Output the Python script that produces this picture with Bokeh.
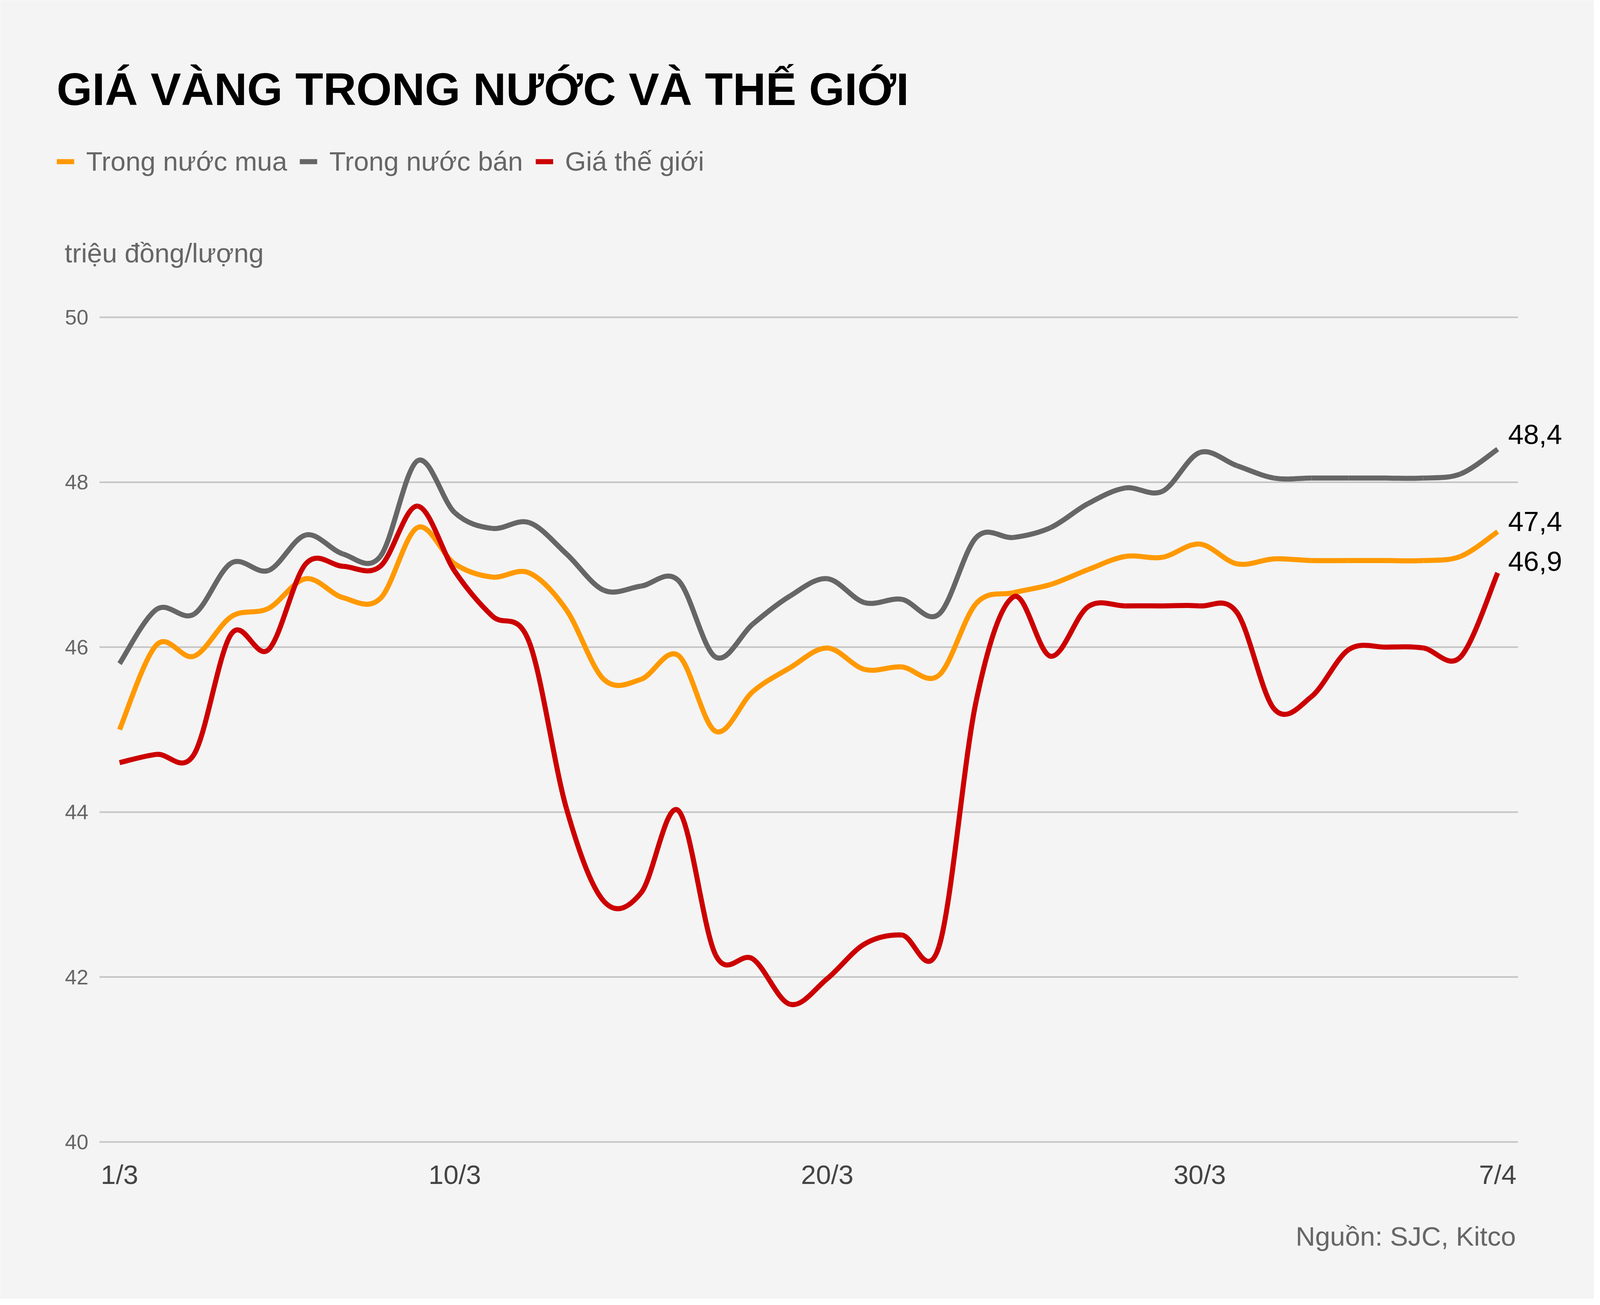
import numpy as np
from bokeh.plotting import figure
from bokeh.models import Range1d, Label, Legend, LegendItem
from bokeh.core.properties import value
from bokeh.embed import file_html
from bokeh.resources import INLINE

# data: daily prices 1/3 -> 7/4 (trieu dong/luong)
dates = ["%d/3" % d for d in range(1, 32)] + ["%d/4" % d for d in range(1, 8)]
tick_labels = ["1/3", "10/3", "20/3", "30/3", "7/4"]
y_ticks = [40, 42, 44, 46, 48, 50]

trong_nuoc_mua = [45.00, 46.03, 45.89, 46.37, 46.47, 46.83, 46.60, 46.59, 47.45, 47.01,
                  46.85, 46.90, 46.45, 45.61, 45.61, 45.90, 44.98, 45.46, 45.75, 45.99,
                  45.73, 45.76, 45.66, 46.53, 46.66, 46.76, 46.94, 47.10, 47.09, 47.25,
                  47.01, 47.07, 47.05, 47.05, 47.05, 47.05, 47.10, 47.40]
trong_nuoc_ban = [45.80, 46.46, 46.40, 47.02, 46.93, 47.36, 47.13, 47.10, 48.26, 47.63,
                  47.44, 47.51, 47.13, 46.69, 46.74, 46.81, 45.88, 46.28, 46.62, 46.83,
                  46.54, 46.58, 46.40, 47.33, 47.33, 47.45, 47.74, 47.93, 47.89, 48.36,
                  48.20, 48.05, 48.05, 48.05, 48.05, 48.05, 48.10, 48.40]
gia_the_gioi = [44.60, 44.70, 44.70, 46.16, 45.97, 47.01, 46.98, 46.98, 47.71, 46.92,
                46.38, 46.06, 44.04, 42.92, 43.02, 44.02, 42.27, 42.22, 41.67, 41.98,
                42.40, 42.51, 42.37, 45.35, 46.61, 45.89, 46.49, 46.50, 46.50, 46.50,
                46.42, 45.25, 45.40, 45.97, 46.00, 45.99, 45.88, 46.90]

BG = "#f4f4f4"
FONT = "Liberation Sans"
W, H = 4080, 3326
K = (W + 16) / 4592.0   # horizontal squeeze vs. the 4592px reference layout
FS = 0.945              # font scale
LIFT = 0.41             # baseline correction, in em


def dx(px):
    # reference page x pixel -> day index
    return (px - 351.5) / 106.9


def dy(px):
    # reference page y pixel -> price
    return 40 + (2932 - px) / 211.2


def fpx(px):
    return px * FS


def base(px, size):
    # text baseline at reference pixel px for a font of given reference size
    return dy(px - LIFT * fpx(size))


def spline(xs, ys):
    '''Catmull-Rom control points for bezier segments.'''
    x = np.asarray(xs, float)
    y = np.asarray(ys, float)
    n = len(x)
    X = np.concatenate([[x[0]], x, [x[-1]]])
    Y = np.concatenate([[y[0]], y, [y[-1]]])
    return dict(
        x0=x[:-1], y0=y[:-1], x1=x[1:], y1=y[1:],
        cx0=x[:-1] + (X[2:n + 1] - X[0:n - 1]) / 6, cy0=y[:-1] + (Y[2:n + 1] - Y[0:n - 1]) / 6,
        cx1=x[1:] - (X[3:n + 2] - X[1:n]) / 6, cy1=y[1:] - (Y[3:n + 2] - Y[1:n]) / 6,
    )


days = np.arange(len(dates))
tick_days = [dates.index(t) for t in tick_labels]

p = figure(width=W, height=H,
           x_range=Range1d(dx(8 / K), dx((8 + W) / K)),
           y_range=Range1d(dy(8 + H), dy(8)),
           output_backend="svg", toolbar_location=None, tools="",
           min_border=0, x_axis_type=None, y_axis_type=None)
p.background_fill_color = BG
p.border_fill_color = BG
p.outline_line_color = None
p.grid.visible = False

# grid lines + tick labels
p.segment(x0=dx(294), x1=dx(4365), y0=y_ticks, y1=y_ticks, line_color="#c4c4c4", line_width=4)
p.text(x=dx(262), y=y_ticks, text=[str(t) for t in y_ticks], text_font=value(FONT),
       text_font_size="%dpx" % fpx(58), text_color="#666666",
       text_align="right", text_baseline="middle")
p.text(x=tick_days, y=base(3045, 74), text=tick_labels, text_font=value(FONT),
       text_font_size="%dpx" % fpx(74), text_color="#444444",
       text_align="center", text_baseline="alphabetic")

series = [
    ("Trong nước mua", trong_nuoc_mua, "#ff9900", -3),
    ("Trong nước bán", trong_nuoc_ban, "#666666", 8),
    ("Giá thế giới", gia_the_gioi, "#cc0000", 0),
]

items = []
for name, vals, color, yoff in series:
    r = p.bezier(source=spline(days, vals), x0="x0", y0="y0", x1="x1", y1="y1",
                 cx0="cx0", cy0="cy0", cx1="cx1", cy1="cy1",
                 line_color=color, line_width=13)
    items.append(LegendItem(label=name, renderers=[r]))
    p.add_layout(Label(x=days[-1], y=vals[-1], x_offset=30 * K,
                       y_offset=yoff + LIFT * fpx(76),
                       text=("%.1f" % vals[-1]).replace(".", ","),
                       text_font=FONT, text_font_size="%dpx" % fpx(76), text_color="#000000",
                       text_baseline="alphabetic", text_align="left"))

legend_h = fpx(74) * 1.15
legend = Legend(items=items, orientation="horizontal",
                location=(171 * K - 8, H - (421 - 8) - legend_h / 2),
                glyph_width=round(51 * K), glyph_height=15, label_standoff=round(35 * K),
                spacing=32, label_height=15, padding=0, margin=0,
                border_line_color=None, background_fill_alpha=0,
                label_text_font=FONT, label_text_font_size="%dpx" % fpx(74),
                label_text_color="#666666")
p.add_layout(legend)

p.add_layout(Label(x=dx(171), y=base(284, 124), text="GIÁ VÀNG TRONG NƯỚC VÀ THẾ GIỚI",
                   text_font=FONT, text_font_size="%dpx" % fpx(124), text_font_style="bold",
                   text_color="#000000", text_baseline="alphabetic"))
p.add_layout(Label(x=dx(194), y=base(685, 74), text="triệu đồng/lượng",
                   text_font=FONT, text_font_size="%dpx" % fpx(74), text_color="#666666",
                   text_baseline="alphabetic"))
p.add_layout(Label(x=dx(4359), y=base(3203, 74), text="Nguồn: SJC, Kitco",
                   text_font=FONT, text_font_size="%dpx" % fpx(74), text_color="#666666",
                   text_baseline="alphabetic", text_align="right"))

open("out.html", "w").write(file_html(p, INLINE))
